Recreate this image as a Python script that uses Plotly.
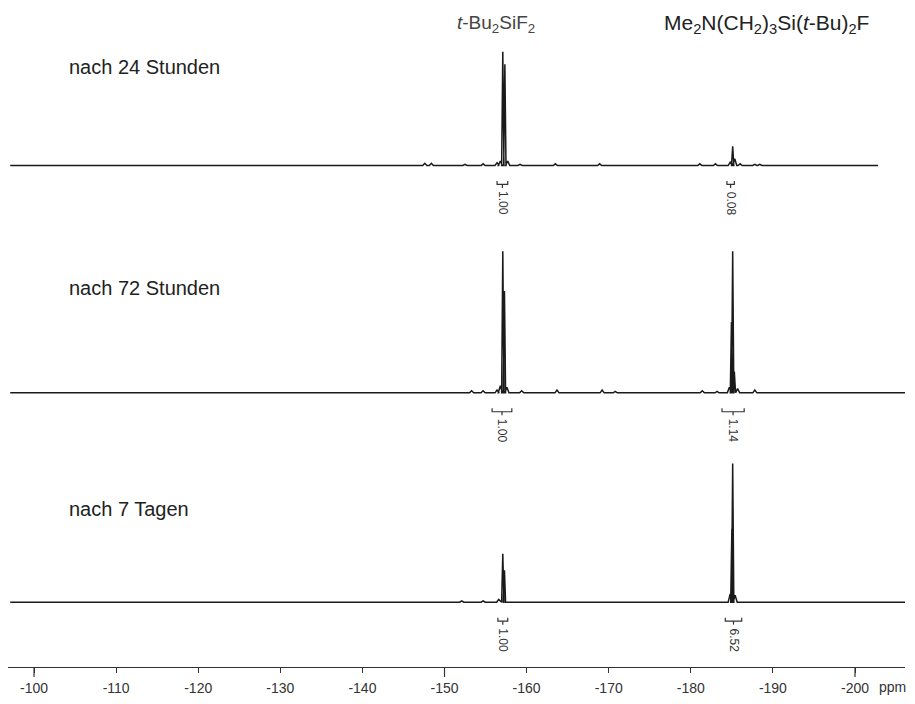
import plotly.graph_objects as go

# ---------------- data ----------------
tick_vals = [-100, -110, -120, -130, -140, -150, -160, -170, -180, -190, -200]
tick_text = ["-100", "-110", "-120", "-130", "-140", "-150", "-160", "-170", "-180", "-190", "-200"]

panel_labels = ["nach 24 Stunden", "nach 72 Stunden", "nach 7 Tagen"]
compound_labels = ["<i>t</i>-Bu<sub>2</sub>SiF<sub>2</sub>",
                   "Me<sub>2</sub>N(CH<sub>2</sub>)<sub>3</sub>Si(<i>t</i>-Bu)<sub>2</sub>F"]

# spectrum after 24 h (relative intensity, tallest = 100)
spec24_ppm = [-147.6, -148.4, -152.5, -154.7, -156.4, -156.8, -157.1, -157.35, -157.7,
              -159.2, -163.5, -168.9, -181.1, -183.0, -184.8, -185.1, -185.35, -186.0, -187.8, -188.4]
spec24_int = [2, 2, 1, 1.5, 2.5, 4, 100, 89, 4,
              1, 1.5, 1.5, 1.5, 1.5, 3, 17, 6, 1.5, 1, 1]
spec24_span = [-97.1, -202.8]

# spectrum after 72 h
spec72_ppm = [-153.3, -154.7, -156.4, -156.8, -157.1, -157.3, -157.6, -159.4, -163.7,
              -169.2, -170.8, -181.4, -183.2, -184.7, -184.95, -185.1, -185.3, -185.7, -187.8]
spec72_int = [1.5, 1.5, 2, 5, 100, 72, 4, 1.5, 2,
              2, 1, 1.5, 1, 4, 50, 100, 15, 3, 2]
spec72_span = [-97.1, -206.9]

# spectrum after 7 days
spec7d_ppm = [-152.1, -154.7, -156.6, -157.1, -157.3, -184.8, -185.0, -185.1, -185.4]
spec7d_int = [1, 1, 2, 35, 23, 6, 53, 100, 5]
spec7d_span = [-97.1, -206.9]

# integral regions (ppm from, ppm to) and values
int24_from = [-156.4, -184.4]
int24_to = [-157.7, -185.3]
int24_val = ["1.00", "0.08"]
int72_from = [-155.8, -183.8]
int72_to = [-158.2, -186.5]
int72_val = ["1.00", "1.14"]
int7d_from = [-156.5, -184.2]
int7d_to = [-157.7, -186.2]
int7d_val = ["1.00", "6.52"]

# ---------------- layout helpers ----------------
OFF = 8                      # page body margin
W, H = 915 - 2 * OFF, 704 - 2 * OFF   # keep page free of scrollbars
ML, MT = 0, 0
PW, PH = 897, 661
MR, MB = W - ML - PW, H - MT - PH
X_RANGE = [-96.83, -206.09]

# per panel: baseline pixel row, pixel row of intensity 100 (screen coordinates)
panels = [
    dict(ppm=spec24_ppm, inten=spec24_int, span=spec24_span, base=166, top=52,
         i_from=int24_from, i_to=int24_to, i_val=int24_val, label_y=67),
    dict(ppm=spec72_ppm, inten=spec72_int, span=spec72_span, base=394, top=252,
         i_from=int72_from, i_to=int72_to, i_val=int72_val, label_y=289),
    dict(ppm=spec7d_ppm, inten=spec7d_int, span=spec7d_span, base=604, top=465,
         i_from=int7d_from, i_to=int7d_to, i_val=int7d_val, label_y=511),
]

HW = 0.14  # half width of a line (ppm)


def px_x(sx):
    return (sx - OFF - ML) / PW


def px_y(sy):
    return (PH - (sy - OFF - MT)) / PH


def build_trace(ppm, inten, span):
    pts = sorted(zip(ppm, inten), key=lambda t: -t[0])
    xs, ys = [span[0]], [0]
    for p, h in pts:
        w = HW if h >= 10 else 0.25
        xs += [p + w, p, p - w]
        ys += [0, h, 0]
    xs.append(span[1])
    ys.append(0)
    return xs, ys


fig = go.Figure()
shapes = []
annotations = []
FONT = "Arial, Liberation Sans, sans-serif"

for i, pnl in enumerate(panels):
    yname = "y" if i == 0 else f"y{i + 1}"
    s = (pnl["base"] - pnl["top"]) / 100.0  # px per unit
    fb = pnl["base"] - OFF - MT
    rng = [(fb - PH) / s, fb / s]
    ax = dict(range=rng, visible=False, fixedrange=True, domain=[0, 1])
    if i == 0:
        fig.update_layout(yaxis=ax)
    else:
        ax["overlaying"] = "y"
        fig.update_layout(**{f"yaxis{i + 1}": ax})

    xs, ys = build_trace(pnl["ppm"], pnl["inten"], pnl["span"])
    fig.add_trace(go.Scatter(x=xs, y=ys, mode="lines", yaxis=yname,
                             line=dict(color="#1a1a1a", width=1.5),
                             hoverinfo="skip", showlegend=False))

    # integral brackets and values
    yb = -19 / s
    up = 3.5 / s
    dn = 3.5 / s
    for a, b, v in zip(pnl["i_from"], pnl["i_to"], pnl["i_val"]):
        m = (a + b) / 2
        shapes.append(dict(type="path", xref="x", yref=yname,
                           path=f"M {a} {yb + up} L {a} {yb} L {b} {yb} L {b} {yb + up}",
                           line=dict(color="#333", width=1.2)))
        shapes.append(dict(type="line", xref="x", yref=yname, x0=m, x1=m,
                           y0=yb, y1=yb - dn, line=dict(color="#333", width=1.2)))
        annotations.append(dict(x=m, y=px_y(pnl["base"] + 38), xref="x", yref="paper",
                                text=v, showarrow=False, textangle=90,
                                xanchor="center", yanchor="middle",
                                font=dict(size=12, color="#333", family=FONT)))

    annotations.append(dict(x=px_x(67), y=px_y(pnl["label_y"]), xref="paper", yref="paper",
                            text=panel_labels[i], showarrow=False,
                            xanchor="left", yanchor="middle",
                            font=dict(size=20, color="#222", family=FONT)))

title_x = [496, 766]
title_size = [19, 21]
title_color = ["#444", "#222"]
for lab, sx, fs, fc in zip(compound_labels, title_x, title_size, title_color):
    annotations.append(dict(x=px_x(sx), y=px_y(24), xref="paper", yref="paper", text=lab,
                            showarrow=False, xanchor="center", yanchor="middle",
                            font=dict(size=fs, color=fc, family=FONT)))

annotations.append(dict(x=px_x(892), y=px_y(689), xref="paper", yref="paper", text="ppm",
                        showarrow=False, xanchor="center", yanchor="middle",
                        font=dict(size=14, color="#333", family=FONT)))

# longer ticks
for v in [-100, -150, -200]:
    shapes.append(dict(type="line", xref="x", yref="paper", x0=v, x1=v,
                       y0=0, y1=-10 / PH, line=dict(color="#333", width=1.2)))

fig.update_layout(
    width=W, height=H,
    margin=dict(l=ML, r=MR, t=MT, b=MB),
    paper_bgcolor="white", plot_bgcolor="white",
    xaxis=dict(range=X_RANGE, tickmode="array", tickvals=tick_vals, ticktext=tick_text,
               showline=True, linecolor="#333", linewidth=1.2, ticks="outside",
               ticklen=5, tickcolor="#333", tickwidth=1.2, showgrid=False, zeroline=False,
               ticklabelstandoff=3, tickfont=dict(size=14, color="#333", family=FONT),
               fixedrange=True),
    shapes=shapes, annotations=annotations,
)

fig.write_html("out.html")
